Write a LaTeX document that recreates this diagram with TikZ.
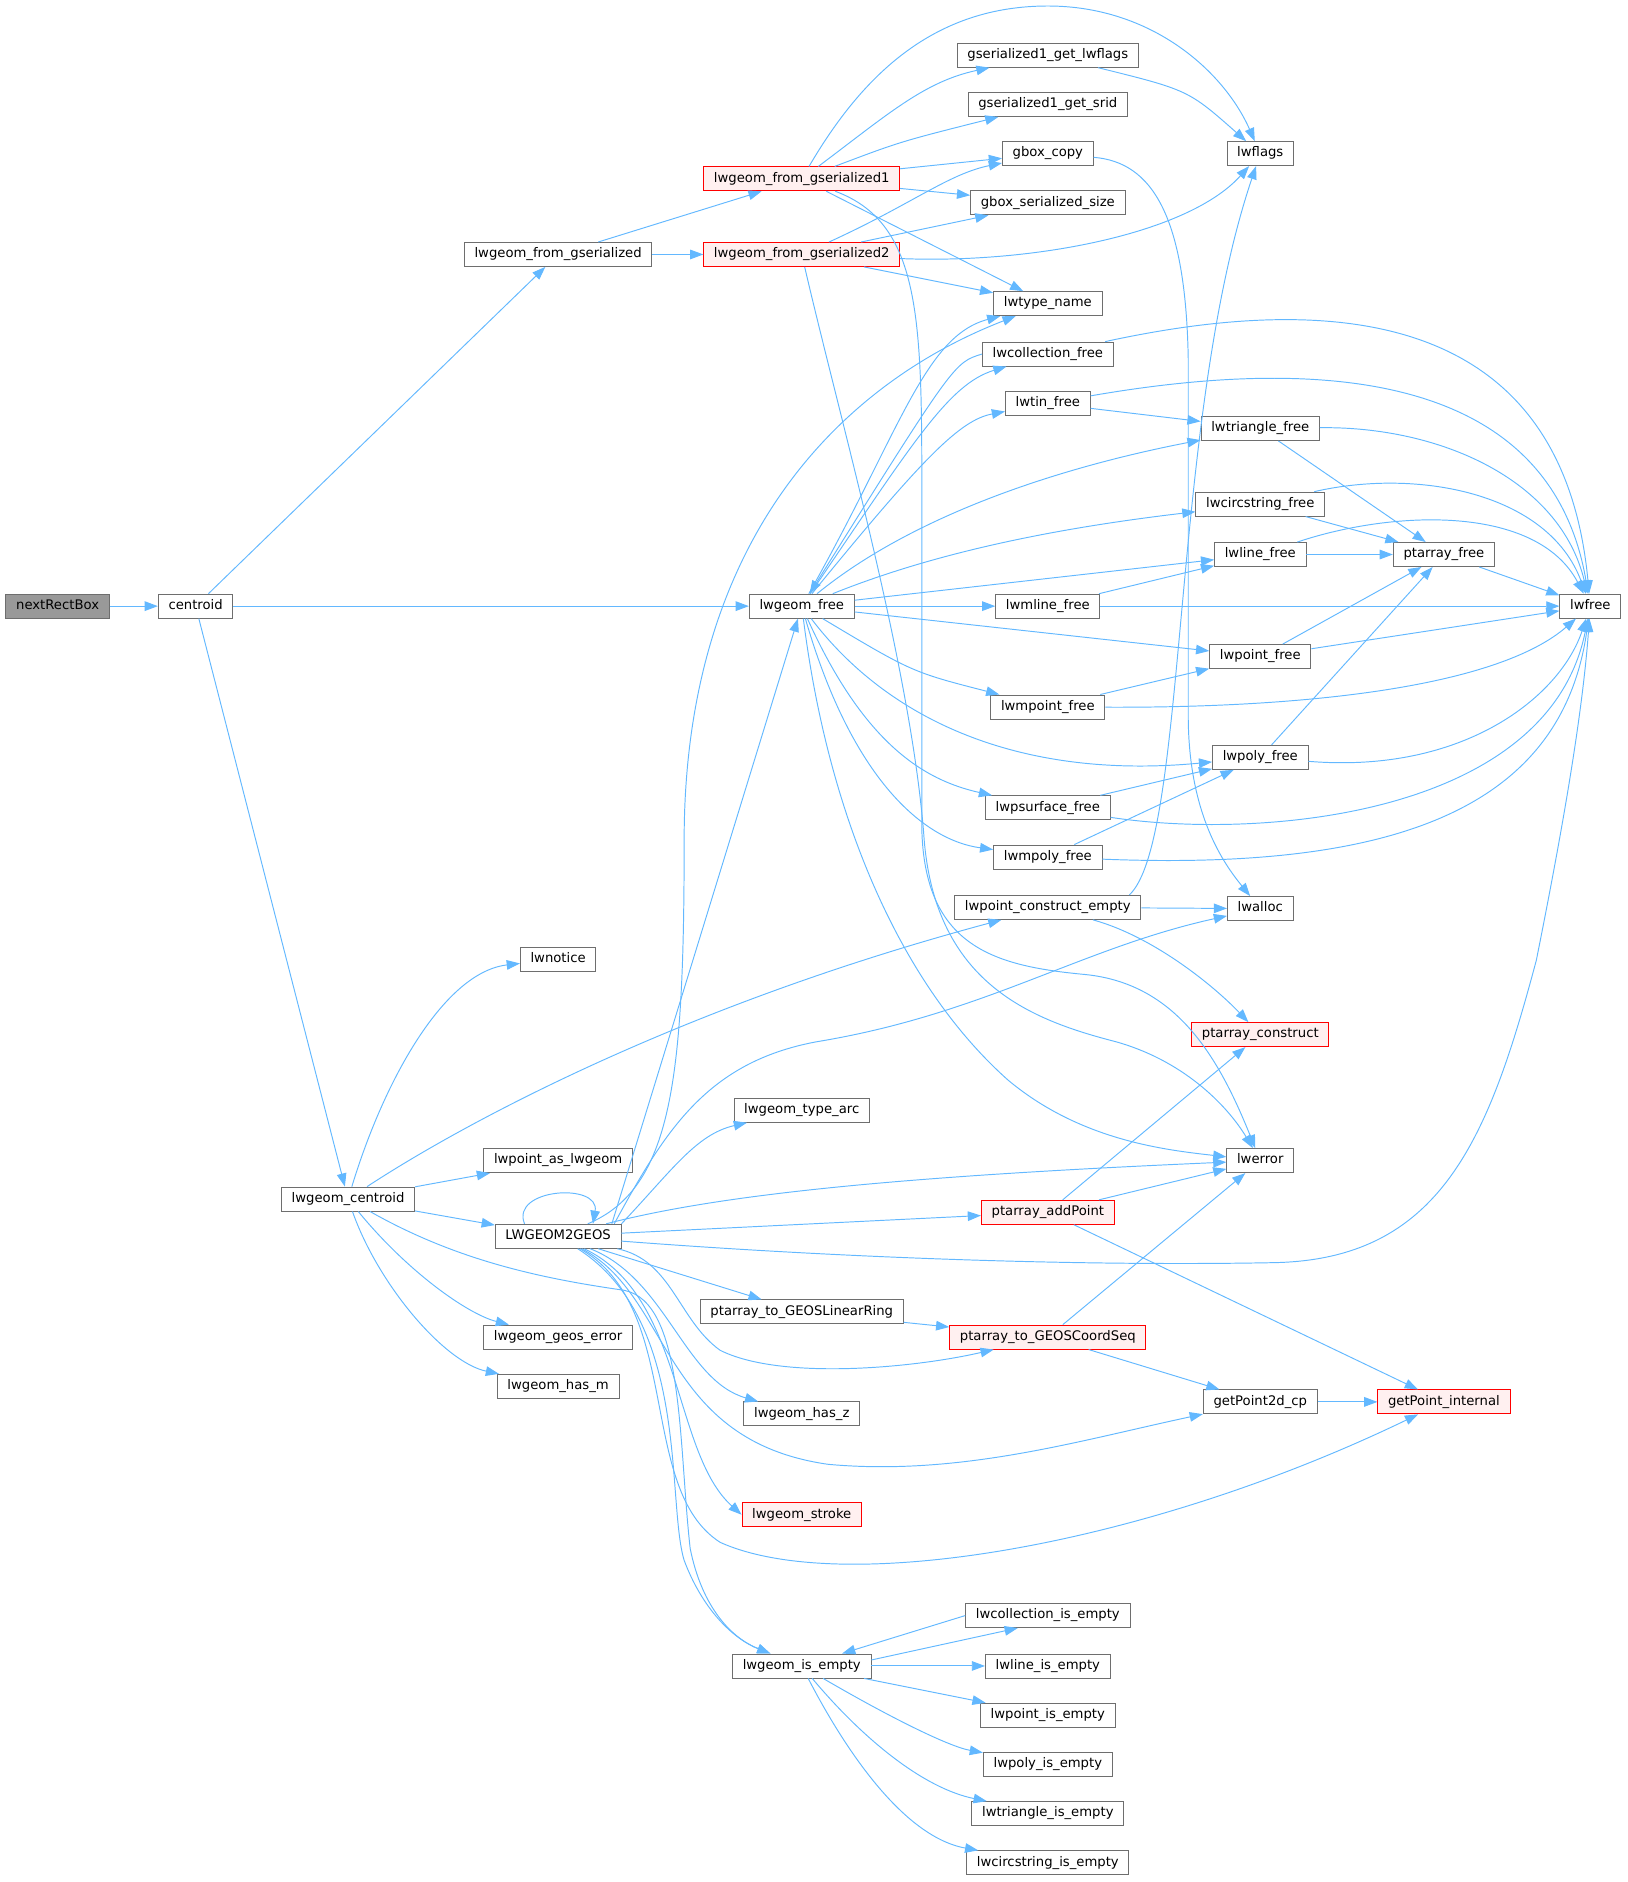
\documentclass[tikz,border=0pt]{standalone}
\usepackage{fontspec}
\setmainfont{DejaVu Sans}
\usetikzlibrary{arrows.meta}
\definecolor{edgeblue}{RGB}{99,184,255}
\definecolor{boxgray}{RGB}{110,110,110}
\definecolor{hotfill}{RGB}{255,240,240}
\definecolor{rootfill}{RGB}{153,153,153}
\tikzset{
    % plain function box
    fnbox/.style={draw=boxgray, line width=0.75pt, fill=white, inner xsep=8.5pt, inner ysep=0pt,
        minimum height=20pt, text height=8pt, text depth=2.5pt, font=\fontsize{11}{13}\selectfont},
    % function whose own graph is cut off (red frame)
    hotbox/.style={fnbox, draw=red, fill=hotfill},
    % the function the graph is drawn for
    rootbox/.style={fnbox, fill=rootfill},
    % call edges
    call/.style={-{Triangle[length=11pt, width=8pt]}, color=edgeblue, line width=0.8pt},
}

\begin{document}
\begin{tikzpicture}[x=1pt, y=-1pt]
    \useasboundingbox (0,0) rectangle (1356,1568);

    % ===== nodes, one column per rank =====
    \node[rootbox] (nrb) at (48,505) {nextRectBox};
    \node[fnbox] (cen) at (163,505) {centroid};
    \node[fnbox] (lcen) at (290,999) {lwgeom\_centroid};

    \node[fnbox] (lfg) at (465,212) {lwgeom\_from\_gserialized};
    \node[fnbox] (notice) at (465,799) {lwnotice};
    \node[fnbox] (pasg) at (465,967) {lwpoint\_as\_lwgeom};
    \node[fnbox] (l2g) at (465,1030) {LWGEOM2GEOS};
    \node[fnbox] (geoserr) at (465,1114) {lwgeom\_geos\_error};
    \node[fnbox] (hasm) at (465,1155) {lwgeom\_has\_m};

    \node[hotbox] (lfg1) at (668,149) {lwgeom\_from\_gserialized1};
    \node[hotbox] (lfg2) at (668,212) {lwgeom\_from\_gserialized2};
    \node[fnbox] (lfree) at (668,505) {lwgeom\_free};
    \node[fnbox] (tarc) at (668,925) {lwgeom\_type\_arc};
    \node[fnbox] (toring) at (668,1093) {ptarray\_to\_GEOSLinearRing};
    \node[fnbox] (hasz) at (668,1178) {lwgeom\_has\_z};
    \node[hotbox] (stroke) at (668,1262) {lwgeom\_stroke};
    \node[fnbox] (isempty) at (668,1388) {lwgeom\_is\_empty};

    \node[fnbox] (getflags) at (873,46) {gserialized1\_get\_lwflags};
    \node[fnbox] (getsrid) at (873,87) {gserialized1\_get\_srid};
    \node[fnbox] (bcopy) at (873,128) {gbox\_copy};
    \node[fnbox] (bsize) at (873,169) {gbox\_serialized\_size};
    \node[fnbox] (tname) at (873,253) {lwtype\_name};
    \node[fnbox] (collfree) at (873,295) {lwcollection\_free};
    \node[fnbox] (tinfree) at (873,336) {lwtin\_free};
    \node[fnbox] (mlinefree) at (873,505) {lwmline\_free};
    \node[fnbox] (mpointfree) at (873,589) {lwmpoint\_free};
    \node[fnbox] (psurffree) at (873,673) {lwpsurface\_free};
    \node[fnbox] (mpolyfree) at (873,714) {lwmpoly\_free};
    \node[fnbox] (pcempty) at (873,756) {lwpoint\_construct\_empty};
    \node[hotbox] (addpt) at (873,1010) {ptarray\_addPoint};
    \node[hotbox] (toseq) at (873,1114) {ptarray\_to\_GEOSCoordSeq};
    \node[fnbox] (colle) at (873,1346) {lwcollection\_is\_empty};
    \node[fnbox] (linee) at (873,1388) {lwline\_is\_empty};
    \node[fnbox] (pointe) at (873,1429) {lwpoint\_is\_empty};
    \node[fnbox] (polye) at (873,1470) {lwpoly\_is\_empty};
    \node[fnbox] (trie) at (873,1511) {lwtriangle\_is\_empty};
    \node[fnbox] (circe) at (873,1552) {lwcircstring\_is\_empty};

    \node[fnbox] (flags) at (1050,128) {lwflags};
    \node[fnbox] (trifree) at (1050,357) {lwtriangle\_free};
    \node[fnbox] (circfree) at (1050,420) {lwcircstring\_free};
    \node[fnbox] (linefree) at (1050,462) {lwline\_free};
    \node[fnbox] (pointfree) at (1050,547) {lwpoint\_free};
    \node[fnbox] (polyfree) at (1050,631) {lwpoly\_free};
    \node[fnbox] (alloc) at (1050,757) {lwalloc};
    \node[hotbox] (pcons) at (1050,862) {ptarray\_construct};
    \node[fnbox] (err) at (1050,967) {lwerror};
    \node[fnbox] (gp2d) at (1050,1168) {getPoint2d\_cp};

    \node[fnbox] (pafree) at (1203,462) {ptarray\_free};
    \node[hotbox] (gpint) at (1203,1168) {getPoint\_internal};
    \node[fnbox] (free) at (1325,505) {lwfree};

    % ===== left part =====
    \draw[call] (nrb) -- (cen);
    \draw[call] (cen) -- (lfg);
    \draw[call] (cen) -- (lfree);
    \draw[call] (cen) -- (lcen);
    \draw[call] (lfg) -- (lfg1);
    \draw[call] (lfg) -- (lfg2);

    % ===== deserialisation =====
    \draw[call] (lfg1) .. controls (720,60) and (780,5) .. (873,5)
        .. controls (960,5) and (1020,60) .. (flags);
    \draw[call] (lfg1) .. controls (740,95) and (770,68) .. (getflags);
    \draw[call] (lfg1) .. controls (750,118) .. (getsrid);
    \draw[call] (lfg1) -- (bcopy);
    \draw[call] (lfg1) -- (bsize);
    \draw[call] (lfg1) -- (tname);
    \draw[call] (lfg1) .. controls (765,185) and (768,260) .. (768,400) -- (768,690)
        .. controls (770,790) and (830,805) .. (905,812)
        .. controls (980,820) and (1015,880) .. (err);
    \draw[call] (lfg2) .. controls (760,170) and (790,145) .. (bcopy);
    \draw[call] (lfg2) -- (bsize);
    \draw[call] (lfg2) .. controls (860,220) and (990,195) .. (flags);
    \draw[call] (lfg2) -- (tname);
    \draw[call] (lfg2) .. controls (700,350) and (760,560) .. (770,700)
        .. controls (780,820) and (860,850) .. (930,868)
        .. controls (990,885) and (1025,925) .. (err);
    \draw[call] (getflags) .. controls (990,75) .. (flags);
    \draw[call] (bcopy) .. controls (960,135) and (988,180) .. (990,300) -- (990,600)
        .. controls (991,680) and (1020,720) .. (alloc);

    % ===== lwgeom_free fan =====
    \draw[call] (lfree) .. controls (750,360) and (770,280) .. (tname);
    \draw[call] (lfree) .. controls (760,370) and (790,320) .. (collfree);
    \draw[call] (collfree.west) .. controls (795,302) .. (lfree);
    \draw[call] (lfree) .. controls (770,380) and (800,350) .. (tinfree);
    \draw[call] (lfree) .. controls (760,430) and (880,390) .. (trifree);
    \draw[call] (lfree) .. controls (780,460) and (880,440) .. (circfree);
    \draw[call] (lfree) -- (linefree);
    \draw[call] (lfree) -- (mlinefree);
    \draw[call] (lfree) -- (pointfree);
    \draw[call] (lfree) .. controls (760,560) .. (mpointfree);
    \draw[call] (lfree) .. controls (740,600) and (850,650) .. (polyfree);
    \draw[call] (lfree) .. controls (720,620) and (770,650) .. (psurffree);
    \draw[call] (lfree) .. controls (710,650) and (770,700) .. (mpolyfree);
    \draw[call] (lfree) .. controls (690,680) and (750,820) .. (840,900)
        .. controls (900,950) and (970,958) .. (err);

    % ===== free helpers =====
    \draw[call] (collfree) .. controls (1080,250) and (1300,240) .. (free);
    \draw[call] (tinfree) -- (trifree);
    \draw[call] (tinfree) .. controls (1080,300) and (1290,300) .. (free);
    \draw[call] (trifree) -- (pafree);
    \draw[call] (trifree) .. controls (1200,355) and (1300,400) .. (free);
    \draw[call] (circfree) -- (pafree);
    \draw[call] (circfree) .. controls (1180,390) and (1290,410) .. (free);
    \draw[call] (linefree) -- (pafree);
    \draw[call] (linefree) .. controls (1160,425) and (1280,420) .. (free);
    \draw[call] (pafree) -- (free);
    \draw[call] (mlinefree) -- (linefree);
    \draw[call] (mlinefree) -- (free);
    \draw[call] (pointfree) -- (pafree);
    \draw[call] (pointfree) -- (free);
    \draw[call] (mpointfree) -- (pointfree);
    \draw[call] (mpointfree) .. controls (1100,590) and (1250,570) .. (free);
    \draw[call] (polyfree) -- (pafree);
    \draw[call] (polyfree) .. controls (1220,645) and (1300,580) .. (free);
    \draw[call] (psurffree) -- (polyfree);
    \draw[call] (psurffree) .. controls (1050,700) and (1290,680) .. (free);
    \draw[call] (mpolyfree) -- (polyfree);
    \draw[call] (mpolyfree) .. controls (1150,725) and (1300,680) .. (free);

    % ===== point construction =====
    \draw[call] ([xshift=-10pt]pcempty.north east) .. controls (990,700) and (975,350) .. (flags);
    \draw[call] (pcempty) -- (alloc);
    \draw[call] (pcempty) .. controls (960,780) and (1010,820) .. (pcons);

    % ===== lwgeom_centroid =====
    \draw[call] (lcen) .. controls (320,900) and (370,810) .. (notice);
    \draw[call] (lcen) .. controls (380,940) and (560,840) .. (pcempty);
    \draw[call] (lcen) -- (pasg);
    \draw[call] (lcen) -- (l2g);
    \draw[call] (lcen) .. controls (340,1060) and (390,1095) .. (geoserr);
    \draw[call] (lcen) .. controls (315,1070) and (370,1135) .. (hasm);
    \draw[call] (lcen) .. controls (380,1050) and (450,1065) .. (520,1075)
        .. controls (570,1085) and (565,1200) .. (575,1290)
        .. controls (585,1340) and (610,1365) .. (isempty);

    % ===== LWGEOM2GEOS =====
    \draw[call] ([xshift=-28pt]l2g.north) .. controls (425,990) and (500,985) .. ([xshift=29pt]l2g.north);
    \draw[call] (l2g) .. controls (560,990) and (570,900) .. (570,700)
        .. controls (570,450) and (700,320) .. (tname);
    \draw[call] ([xshift=-8pt]l2g.north east) -- (lfree);
    \draw[call] ([xshift=-6pt]l2g.north east) .. controls (555,940) and (590,885) .. (680,868)
        .. controls (820,845) and (900,790) .. (alloc);
    \draw[call] (l2g.north east) .. controls (560,975) and (580,945) .. (tarc);
    \draw[call] (l2g) .. controls (600,995) and (750,980) .. (err);
    \draw[call] (l2g) -- (addpt);
    \draw[call] (l2g) .. controls (700,1048) and (900,1055) .. (1060,1052)
        .. controls (1200,1050) and (1240,950) .. (1280,800)
        .. controls (1300,700) and (1318,600) .. (free);
    \draw[call] (l2g) -- (toring);
    \draw[call] (l2g) .. controls (560,1050) and (565,1100) .. (600,1125)
        .. controls (650,1150) and (760,1140) .. (toseq);
    \draw[call] (l2g) .. controls (555,1065) and (570,1150) .. (hasz);
    \draw[call] (l2g) .. controls (560,1080) and (550,1200) .. (690,1220)
        .. controls (800,1230) and (900,1200) .. (gp2d);
    \draw[call] (l2g) .. controls (570,1080) and (560,1210) .. (stroke.west);
    \draw[call] (l2g) .. controls (570,1090) and (530,1240) .. (600,1285)
        .. controls (700,1330) and (950,1290) .. (gpint);
    \draw[call] (l2g) .. controls (575,1100) and (555,1250) .. (570,1300)
        .. controls (585,1340) and (610,1365) .. (isempty);

    % ===== point arrays =====
    \draw[call] (addpt) -- (pcons);
    \draw[call] (addpt) -- (err);
    \draw[call] (addpt) -- (gpint);
    \draw[call] (toring) -- (toseq);
    \draw[call] (toseq) -- (err);
    \draw[call] (toseq) -- (gp2d);
    \draw[call] (gp2d) -- (gpint);

    % ===== emptiness tests =====
    \draw[call] (colle.west) -- (isempty);
    \draw[call] ([yshift=5pt]isempty.east) -- ([xshift=-25pt]colle.south);
    \draw[call] (isempty) -- (linee);
    \draw[call] (isempty) -- (pointe);
    \draw[call] (isempty) .. controls (740,1430) and (790,1455) .. (polye);
    \draw[call] (isempty) .. controls (720,1450) and (770,1490) .. (trie);
    \draw[call] (isempty) .. controls (700,1450) and (750,1530) .. (circe);

\end{tikzpicture}
\end{document}
